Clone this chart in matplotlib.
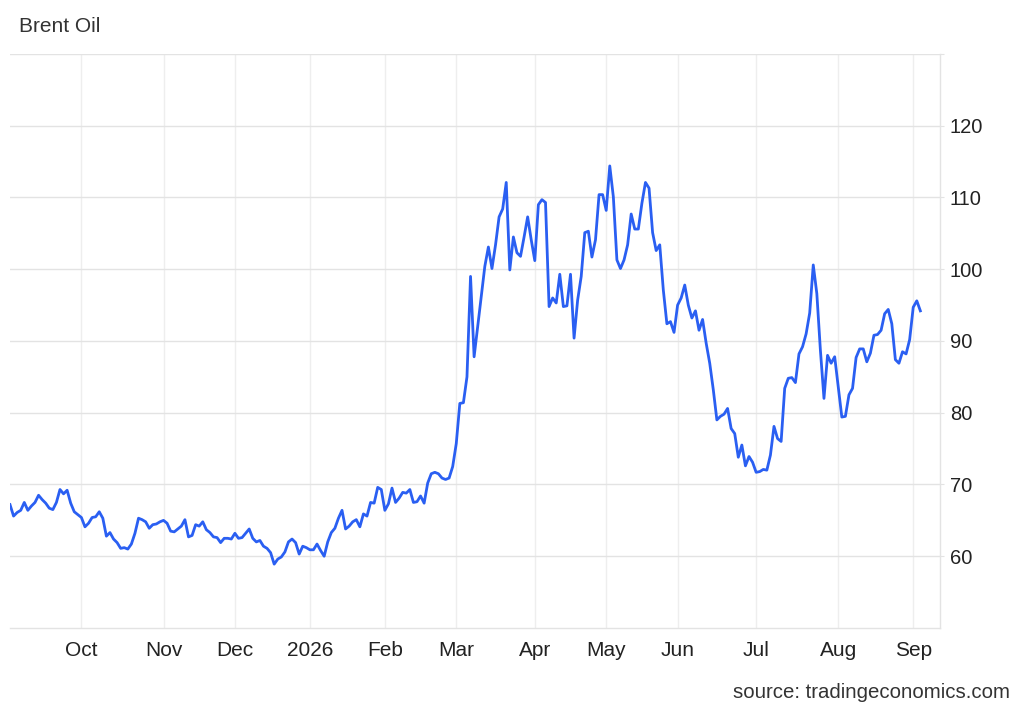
import numpy as np
import pandas as pd
import matplotlib.pyplot as plt

plt.rcParams['font.family'] = ['Liberation Sans', 'DejaVu Sans']

# daily Brent closes, one list per month
sep25 = [67.2, 65.6, 66.1, 66.4, 67.5, 66.4, 67.0, 67.5, 68.5, 67.9, 67.4, 66.7, 66.5, 67.5, 69.3, 68.7, 69.2, 67.4, 66.2, 65.8]
oct25 = [65.4, 64.1, 64.6, 65.4, 65.5, 66.2, 65.3, 62.8, 63.3, 62.4, 61.9, 61.1, 61.2, 61.0, 61.7, 63.2, 65.3, 65.1, 64.8, 63.9, 64.4, 64.5, 64.8]
nov25 = [65.0, 64.6, 63.5, 63.4, 63.8, 64.2, 65.1, 62.7, 62.9, 64.4, 64.2, 64.8, 63.7, 63.3, 62.7, 62.6, 61.9, 62.5, 62.5, 62.4]
dec25 = [63.2, 62.5, 62.6, 63.2, 63.8, 62.5, 62.0, 62.2, 61.4, 61.1, 60.5, 58.9, 59.6, 59.9, 60.6, 62.0, 62.4, 61.9, 60.3, 61.4, 61.2]
jan26 = [60.9, 60.9, 61.7, 60.8, 60.0, 62.0, 63.3, 63.9, 65.3, 66.4, 63.8, 64.2, 64.8, 65.1, 64.1, 65.9, 65.6, 67.5, 67.4, 69.6, 69.3]
feb26 = [66.4, 67.3, 69.5, 67.5, 68.1, 68.9, 68.8, 69.3, 67.5, 67.6, 68.4, 67.4, 70.2, 71.5, 71.7, 71.5, 70.9, 70.7, 70.9, 72.5]
mar26 = [75.7, 81.3, 81.4, 85.0, 99.0, 87.8, 92.0, 96.2, 100.4, 103.1, 100.1, 103.4, 107.3, 108.4, 112.1, 99.9, 104.5, 102.3, 101.8, 104.5, 107.3, 104.1]
apr26 = [101.2, 109.0, 109.7, 109.3, 94.8, 96.0, 95.3, 99.3, 94.8, 94.9, 99.3, 90.4, 95.7, 99.0, 105.1, 105.3, 101.7, 104.1, 110.4, 110.4]
may26 = [108.2, 114.4, 110.1, 101.3, 100.1, 101.3, 103.4, 107.7, 105.6, 105.6, 109.2, 112.1, 111.3, 105.1, 102.6, 103.4, 97.1, 92.4, 92.7, 91.2]
jun26 = [95.0, 96.0, 97.8, 95.0, 93.2, 94.2, 91.5, 93.0, 89.7, 86.9, 83.2, 79.0, 79.5, 79.8, 80.6, 77.8, 77.1, 73.8, 75.5, 72.6, 73.9, 73.1]
jul26 = [71.7, 71.8, 72.1, 72.0, 74.1, 78.1, 76.4, 76.0, 83.4, 84.8, 84.9, 84.2, 88.2, 89.2, 91.0, 93.9, 100.6, 96.6, 88.7, 82.0, 88.0, 86.9, 87.8]
aug26 = [83.6, 79.4, 79.5, 82.5, 83.4, 87.7, 88.9, 88.9, 87.1, 88.3, 90.8, 90.9, 91.5, 93.8, 94.4, 92.4, 87.4, 86.9, 88.5, 88.2, 90.2]
sep26 = [94.7, 95.6, 94.2]

closed = ['2025-12-25', '2025-12-26', '2026-01-01', '2026-04-03', '2026-04-06', '2026-05-25']
dates = pd.bdate_range('2025-09-03', '2026-09-03', freq='C', holidays=closed)
prices = sep25 + oct25 + nov25 + dec25 + jan26 + feb26 + mar26 + apr26 + may26 + jun26 + jul26 + aug26 + sep26

y_ticks = [60, 70, 80, 90, 100, 110, 120, 130]
month_starts = pd.date_range('2025-10-01', '2026-09-01', freq='MS')
month_labels = [str(d.year) if d.month == 1 else d.strftime('%b') for d in month_starts]

# trading days are spaced evenly, months ticked at their first session
x = np.arange(len(prices))
month_pos = np.searchsorted(dates, month_starts)

fig = plt.figure(figsize=(10.24, 7.10), dpi=100)
ax = fig.add_axes([10/1024, 1 - 628/710, 930/1024, 574/710])

ax.plot(x, prices, color='#2a5ff2', lw=2.0, solid_joinstyle='round')

ax.set_xlim(0, len(prices) + 4.5)
ax.set_ylim(50, 130)

ax.yaxis.tick_right()
ax.set_yticks(y_ticks)
ax.set_yticklabels([str(v) if v < 130 else '' for v in y_ticks])
ax.set_xticks(month_pos)
ax.set_xticklabels(month_labels)

ax.grid(axis='y', color='#e3e3e3', lw=1)
ax.grid(axis='x', color='#eeeeee', lw=1)
ax.set_axisbelow(True)

for side in ['top', 'left']:
    ax.spines[side].set_visible(False)
for side in ['right', 'bottom']:
    ax.spines[side].set_color('#e3e3e3')
    ax.spines[side].set_linewidth(1)

ax.tick_params(axis='x', length=0, pad=9, labelsize=15, labelcolor='#222222')
ax.tick_params(axis='y', length=3, color='#e3e3e3', pad=4, labelsize=14.5, labelcolor='#222222')

fig.text(19/1024, 1 - 27/710, 'Brent Oil', fontsize=15, color='#333333', va='center', ha='left')
fig.text(1010/1024, 1 - 692/710, 'source: tradingeconomics.com', fontsize=14.7, color='#333333',
         va='center', ha='right')

fig.savefig('out.png', dpi=100)
